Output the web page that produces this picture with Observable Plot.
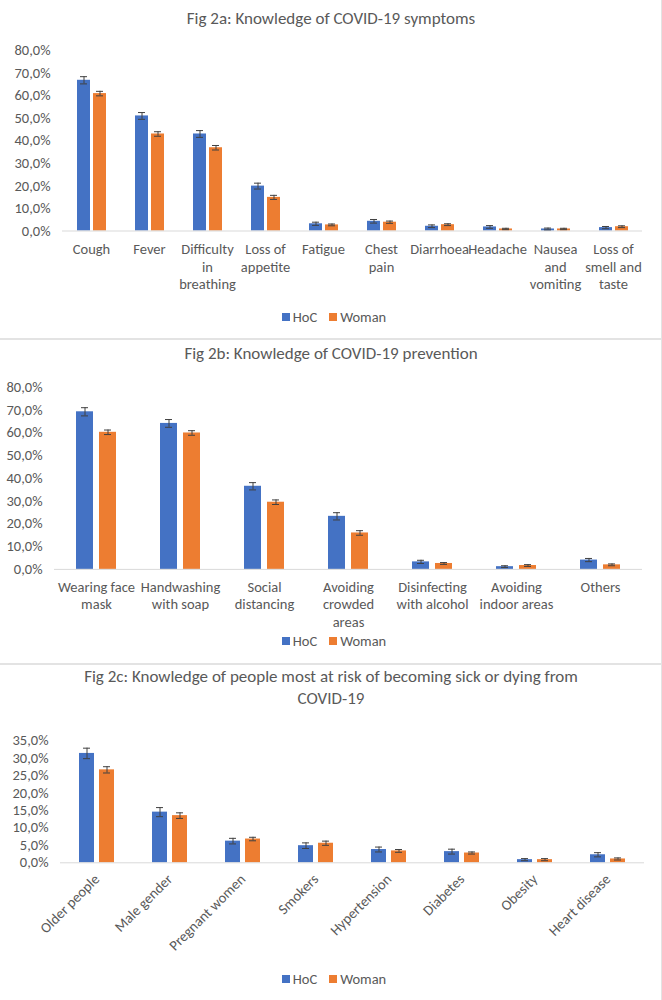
<!DOCTYPE html>
<html>
<head>
<meta charset="utf-8">
<script src="https://cdn.jsdelivr.net/npm/d3@7"></script>
<script src="https://cdn.jsdelivr.net/npm/@observablehq/plot@0.6"></script>
<style>
  body { margin: 0; background: #fff; }
  #page { position: relative; width: 662px; height: 1000px; font-family: Calibri, Carlito, Lato, sans-serif; color: #595959; overflow: hidden; }
  .title { position: absolute; left: 0; width: 662px; text-align: center; font-size: 17px; line-height: 22px; color: #595959; font-weight: 300; }
  .chart { position: absolute; left: 0; }
  .legend { position: absolute; left: 0; width: 662px; display: flex; justify-content: center; align-items: center; font-size: 14.5px; height: 16px; line-height: 16px; gap: 12px; padding-left: 6px; box-sizing: border-box; font-weight: 300; }
  .legend span.item { display: flex; align-items: center; gap: 3px; }
  .legend i { display: inline-block; width: 8px; height: 8px; }
  .sep { position: absolute; left: 0; width: 662px; height: 2px; background: #e3e3e3; }
  .vborder { position: absolute; top: 0; left: 661px; width: 1px; height: 1000px; background: #e3e3e3; }
</style>
</head>
<body>
<div id="page"></div>
<script>
// ---------- data ----------
const series = ["HoC", "Woman"];
const seriesColors = ["#4472C4", "#ED7D31"];

// Fig 2a: symptoms
const symptoms = ["Cough", "Fever", "Difficulty\nin\nbreathing", "Loss of\nappetite", "Fatigue", "Chest\npain", "Diarrhoea", "Headache", "Nausea\nand\nvomiting", "Loss of\nsmell and\ntaste"];
const symptomsHoC = [66.8, 51.0, 43.0, 19.9, 3.2, 4.3, 2.1, 1.8, 0.9, 1.5];
const symptomsWoman = [60.9, 43.0, 36.9, 14.9, 2.7, 3.9, 2.8, 0.9, 0.9, 1.9];
const symptomsHoCErr = [1.6, 1.5, 1.5, 1.3, 0.7, 0.8, 0.6, 0.6, 0.4, 0.5];
const symptomsWomanErr = [1.0, 1.0, 1.0, 0.9, 0.4, 0.5, 0.4, 0.3, 0.3, 0.4];
const symptomsTicks = [0, 10, 20, 30, 40, 50, 60, 70, 80];

// Fig 2b: prevention
const prevention = ["Wearing face\nmask", "Handwashing\nwith soap", "Social\ndistancing", "Avoiding\ncrowded\nareas", "Disinfecting\nwith alcohol", "Avoiding\nindoor areas", "Others"];
const preventionHoC = [69.2, 64.1, 36.5, 23.3, 3.3, 1.2, 4.1];
const preventionWoman = [60.2, 59.9, 29.5, 16.0, 2.6, 1.7, 2.0];
const preventionHoCErr = [1.8, 1.7, 1.6, 1.6, 0.7, 0.4, 0.7];
const preventionWomanErr = [1.0, 1.0, 1.0, 1.0, 0.4, 0.4, 0.4];
const preventionTicks = [0, 10, 20, 30, 40, 50, 60, 70, 80];

// Fig 2c: people most at risk
const risk = ["Older people", "Male gender", "Pregnant women", "Smokers", "Hypertension", "Diabetes", "Obesity", "Heart disease"];
const riskHoC = [31.3, 14.5, 6.2, 4.9, 3.8, 3.2, 0.9, 2.3];
const riskWoman = [26.6, 13.5, 6.8, 5.6, 3.4, 2.8, 0.9, 1.1];
const riskHoCErr = [1.5, 1.3, 0.8, 0.8, 0.7, 0.7, 0.3, 0.6];
const riskWomanErr = [0.9, 0.8, 0.5, 0.6, 0.4, 0.3, 0.3, 0.3];
const riskTicks = [0, 5, 10, 15, 20, 25, 30, 35];

// ---------- helpers ----------
const page = document.getElementById("page");
const fmt = d => d.toFixed(1).replace(".", ",") + "%";

function rowsOf(cats, a, b, ea, eb) {
  const rows = [];
  cats.forEach((c, i) => {
    rows.push({cat: c, series: series[0], value: a[i], err: ea[i]});
    rows.push({cat: c, series: series[1], value: b[i], err: eb[i]});
  });
  return rows;
}

function addTitle(html, top) {
  const d = document.createElement("div");
  d.className = "title";
  d.style.top = top + "px";
  d.innerHTML = html;
  page.appendChild(d);
}
function addLegend(top) {
  const d = document.createElement("div");
  d.className = "legend";
  d.style.top = top + "px";
  series.forEach((s, i) => {
    const it = document.createElement("span");
    it.className = "item";
    it.innerHTML = `<i style="background:${seriesColors[i]}"></i>${s}`;
    d.appendChild(it);
  });
  page.appendChild(d);
}
function addSep(top) {
  const d = document.createElement("div");
  d.className = "sep";
  d.style.top = top + "px";
  page.appendChild(d);
}

function chart({cats, rows, ticks, top, height, mt, mb, ml, mr, pi, po, capInset, rotate, tickPad}) {
  const axisOpts = rotate
    ? {anchor: "bottom", tickSize: 0, tickPadding: tickPad, tickRotate: -45, label: null, fontSize: 14.5}
    : {anchor: "bottom", tickSize: 0, tickPadding: tickPad, label: null, lineHeight: 1.2, fontSize: 14.5};
  const svg = Plot.plot({
    width: 662,
    height,
    marginTop: mt, marginBottom: mb, marginLeft: ml, marginRight: mr,
    style: {fontFamily: "Calibri, Carlito, Lato, sans-serif", fontSize: "14.5px", fontWeight: 300, color: "#595959", background: "transparent", overflow: "visible"},
    fx: {domain: cats, padding: 0, axis: null, label: null},
    x: {domain: series, paddingInner: pi, paddingOuter: po, axis: null},
    y: {domain: [0, ticks[ticks.length - 1]], axis: null},
    color: {domain: series, range: seriesColors},
    marks: [
      Plot.axisFx(axisOpts),
      Plot.axisY({ticks, tickFormat: fmt, tickSize: 0, tickPadding: 12, label: null, fontSize: 14.5}),
      Plot.barY(rows, {fx: "cat", x: "series", y: "value", fill: "series"}),
      Plot.ruleY([0], {stroke: "#d9d9d9", strokeWidth: 1}),
      Plot.ruleX(rows, {fx: "cat", x: "series", y1: d => d.value - d.err, y2: d => d.value + d.err, stroke: "#404040", strokeWidth: 1}),
      Plot.tickY(rows, {fx: "cat", x: "series", y: d => d.value - d.err, stroke: "#404040", strokeWidth: 1, insetLeft: capInset, insetRight: capInset}),
      Plot.tickY(rows, {fx: "cat", x: "series", y: d => d.value + d.err, stroke: "#404040", strokeWidth: 1, insetLeft: capInset, insetRight: capInset})
    ]
  });
  const wrap = document.createElement("div");
  wrap.className = "chart";
  wrap.style.top = top + "px";
  wrap.appendChild(svg);
  page.appendChild(wrap);
}

// ---------- Panel a ----------
addTitle("Fig 2a: Knowledge of COVID-19 symptoms", 8);
chart({cats: symptoms, rows: rowsOf(symptoms, symptomsHoC, symptomsWoman, symptomsHoCErr, symptomsWomanErr),
  ticks: symptomsTicks, top: 38, height: 262, mt: 12, mb: 69.5, ml: 59, mr: 18, pi: 0.21, po: 0.88, capInset: 3, tickPad: 11});
addLegend(309);
addSep(338);

// ---------- Panel b ----------
addTitle("Fig 2b: Knowledge of COVID-19 prevention", 343);
chart({cats: prevention, rows: rowsOf(prevention, preventionHoC, preventionWoman, preventionHoCErr, preventionWomanErr),
  ticks: preventionTicks, top: 372, height: 260, mt: 14.7, mb: 63.1, ml: 53, mr: 20, pi: 0.25, po: 0.877, capInset: 5, tickPad: 10});
addLegend(633);
addSep(663);

// ---------- Panel c ----------
addTitle("Fig 2c: Knowledge of people most at risk of becoming sick or dying from<br>COVID-19", 666);
chart({cats: risk, rows: rowsOf(risk, riskHoC, riskWoman, riskHoCErr, riskWomanErr),
  ticks: riskTicks, top: 715, height: 245, mt: 25, mb: 97.7, ml: 59, mr: 18, pi: 0.24, po: 0.86, capInset: 4, rotate: true, tickPad: 14});
addLegend(971);

const vb = document.createElement("div");
vb.className = "vborder";
page.appendChild(vb);
</script>
</body>
</html>
